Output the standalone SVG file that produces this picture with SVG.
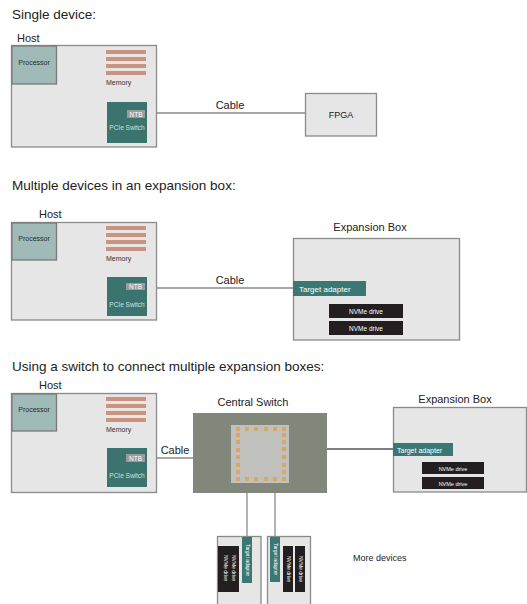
<svg xmlns="http://www.w3.org/2000/svg" width="527" height="604" viewBox="0 0 527 604">
<style>
text{font-family:"Liberation Sans",Arial,sans-serif;}
.h{font-size:13.5px;fill:#222;}
.lbl{font-size:11px;fill:#222;}
.host{fill:#e6e6e6;stroke:#8a8a8a;stroke-width:1.3;}
.proc{fill:#9fbab7;stroke:#7a7a7a;stroke-width:1.3;}
.pt{font-size:7px;fill:#2a2a2a;}
.mem{fill:#c9937e;}
.mt{font-size:7px;fill:#333;}
.pcie{fill:#3b736f;}
.pst{font-size:6.5px;fill:#cfe0dd;}
.ntb{fill:#9b9b9b;}
.ntbt{font-size:6.5px;fill:#fff;}
.ta{fill:#3b7873;}
.tat{font-size:8px;fill:#fff;}
.nv{fill:#231f20;}
.nvt{font-size:6.5px;fill:#fff;}
.vt{font-size:5px;fill:#fff;}
.ln{fill:none;stroke:#555;stroke-width:1.3;}
.cb{fill:none;stroke:#8a8a8a;stroke-width:1.3;}
.sw{fill:#81877a;}
.chip{fill:#c0c0bc;}
.pad{fill:#d8a767;}
</style>

<text class="h" x="12" y="19">Single device:</text>
<text class="h" x="12" y="190">Multiple devices in an expansion box:</text>
<text class="h" x="12" y="371">Using a switch to connect multiple expansion boxes:</text>

<g id="connectors">
  <path class="ln" d="M57 65H106"/>
  <path class="ln" d="M57 79H74V115H107"/>
  <path class="cb" d="M145 113H305"/>
  <path class="ln" d="M57 242H106"/>
  <path class="ln" d="M57 254H74V289H107"/>
  <path class="cb" d="M145 288H293"/>
  <path class="ln" d="M57 412H106"/>
  <path class="ln" d="M57 425H74V460H107"/>
  <path class="cb" d="M145 458H237"/>
  <path class="ln" d="M286 449H393"/>
  <path class="cb" d="M247 481V537"/>
  <path class="cb" d="M275 481V537"/>
</g>

<g id="host1">
  <text class="lbl" x="17" y="42">Host</text>
  <rect class="host" x="11.5" y="45.5" width="145" height="101.5"/>
  <rect class="proc" x="12" y="46" width="44.5" height="38"/>
  <text class="pt" x="34" y="65" text-anchor="middle">Processor</text>
  <rect class="mem" x="106" y="50" width="40" height="4"/>
  <rect class="mem" x="106" y="57" width="40" height="4"/>
  <rect class="mem" x="106" y="64" width="40" height="4"/>
  <rect class="mem" x="106" y="71" width="40" height="4"/>
  <text class="mt" x="106" y="85">Memory</text>
  <rect class="pcie" x="107" y="102" width="40" height="41"/>
  <rect class="ntb" x="127" y="110" width="18" height="8"/>
  <text class="ntbt" x="136" y="116.5" text-anchor="middle">NTB</text>
  <text class="pst" x="127" y="130" text-anchor="middle">PCIe Switch</text>
</g>
<g id="cable1">
  <text class="lbl" x="230" y="109" text-anchor="middle">Cable</text>
</g>
<g id="fpga">
  <rect class="host" x="305.5" y="93.5" width="71" height="42.5"/>
  <text class="lbl" x="341" y="118" text-anchor="middle" style="font-size:9px">FPGA</text>
</g>

<g id="host2">
  <text class="lbl" x="39" y="218">Host</text>
  <rect class="host" x="11.5" y="222.5" width="145" height="97.5"/>
  <rect class="proc" x="12" y="223" width="44.5" height="37"/>
  <text class="pt" x="34" y="241" text-anchor="middle">Processor</text>
  <rect class="mem" x="106" y="226" width="40" height="4"/>
  <rect class="mem" x="106" y="233" width="40" height="4"/>
  <rect class="mem" x="106" y="240" width="40" height="4"/>
  <rect class="mem" x="106" y="247" width="40" height="4"/>
  <text class="mt" x="106" y="261">Memory</text>
  <rect class="pcie" x="107" y="277" width="40" height="39"/>
  <rect class="ntb" x="126" y="283" width="19" height="7"/>
  <text class="ntbt" x="135.5" y="289" text-anchor="middle">NTB</text>
  <text class="pst" x="127" y="307" text-anchor="middle">PCIe Switch</text>
</g>
<g id="cable2">
  <text class="lbl" x="230" y="284" text-anchor="middle">Cable</text>
</g>
<g id="expbox1">
  <text class="lbl" x="370" y="231" text-anchor="middle">Expansion Box</text>
  <rect class="host" x="293.5" y="238.5" width="166" height="101.5"/>
  <rect class="ta" x="293" y="281" width="73" height="15"/>
  <text class="tat" x="299" y="291.5">Target adapter</text>
  <rect class="nv" x="329" y="304" width="74" height="14"/>
  <text class="nvt" x="366" y="313.5" text-anchor="middle">NVMe drive</text>
  <rect class="nv" x="329" y="321" width="74" height="14"/>
  <text class="nvt" x="366" y="330.5" text-anchor="middle">NVMe drive</text>
</g>

<g id="host3">
  <text class="lbl" x="39" y="389">Host</text>
  <rect class="host" x="11.5" y="393.5" width="145" height="99"/>
  <rect class="proc" x="12" y="394" width="44.5" height="37"/>
  <text class="pt" x="34" y="412" text-anchor="middle">Processor</text>
  <rect class="mem" x="106" y="397" width="40" height="4"/>
  <rect class="mem" x="106" y="404" width="40" height="4"/>
  <rect class="mem" x="106" y="411" width="40" height="4"/>
  <rect class="mem" x="106" y="418" width="40" height="4"/>
  <text class="mt" x="106" y="432">Memory</text>
  <rect class="pcie" x="107" y="448" width="40" height="39"/>
  <rect class="ntb" x="126" y="454" width="19" height="8"/>
  <text class="ntbt" x="135.5" y="460.5" text-anchor="middle">NTB</text>
  <text class="pst" x="127" y="478" text-anchor="middle">PCIe Switch</text>
</g>
<g id="cable3">
  <text class="lbl" x="175" y="454" text-anchor="middle">Cable</text>
</g>
<g id="central-switch">
  <text class="lbl" x="253" y="406" text-anchor="middle">Central Switch</text>
  <rect class="sw" x="193" y="413" width="134" height="80"/>
  <rect class="chip" x="231" y="425" width="58" height="58"/>
  <g class="pad">
    <rect x="236" y="427" width="4" height="4"/><rect x="245" y="427" width="4" height="4"/><rect x="254" y="427" width="4" height="4"/><rect x="264" y="427" width="4" height="4"/><rect x="273" y="427" width="4" height="4"/><rect x="282" y="427" width="4" height="4"/>
    <rect x="236" y="477" width="4" height="4"/><rect x="245" y="477" width="4" height="4"/><rect x="254" y="477" width="4" height="4"/><rect x="264" y="477" width="4" height="4"/><rect x="273" y="477" width="4" height="4"/><rect x="282" y="477" width="4" height="4"/>
    <rect x="236" y="433" width="4" height="4"/><rect x="236" y="440" width="4" height="4"/><rect x="236" y="448" width="4" height="4"/><rect x="236" y="455" width="4" height="4"/><rect x="236" y="463" width="4" height="4"/><rect x="236" y="470" width="4" height="4"/>
    <rect x="282" y="433" width="4" height="4"/><rect x="282" y="440" width="4" height="4"/><rect x="282" y="447" width="4" height="4"/><rect x="282" y="455" width="4" height="4"/><rect x="282" y="463" width="4" height="4"/><rect x="282" y="470" width="4" height="4"/>
  </g>
</g>
<g id="expbox2">
  <text class="lbl" x="455" y="403" text-anchor="middle">Expansion Box</text>
  <rect class="host" x="393.5" y="407.5" width="133" height="84.5"/>
  <rect class="ta" x="393" y="443" width="60" height="13"/>
  <text class="tat" x="397" y="452.5" style="font-size:7px">Target adapter</text>
  <rect class="nv" x="422" y="462" width="62" height="12"/>
  <text class="nvt" x="453" y="470.5" text-anchor="middle" style="font-size:5.5px">NVMe drive</text>
  <rect class="nv" x="422" y="477" width="62" height="12"/>
  <text class="nvt" x="453" y="485.5" text-anchor="middle" style="font-size:5.5px">NVMe drive</text>
</g>
<g id="device-a">
  <rect class="host" x="217.5" y="536.5" width="43.5" height="70"/>
  <rect class="ta" x="242" y="537" width="10" height="46"/>
  <text class="vt" transform="translate(245.5 560) rotate(90)" text-anchor="middle">Target adapter</text>
  <rect class="nv" x="218" y="546" width="21" height="46"/>
  <text class="vt" transform="translate(223.5 568) rotate(90)" text-anchor="middle">NVMe drive</text>
  <text class="vt" transform="translate(232 568) rotate(90)" text-anchor="middle">NVMe drive</text>
</g>
<g id="device-b">
  <rect class="host" x="267.5" y="536.5" width="43" height="70"/>
  <rect class="ta" x="270" y="537" width="10" height="45"/>
  <text class="vt" transform="translate(273.5 559) rotate(90)" text-anchor="middle">Target adapter</text>
  <rect class="nv" x="283" y="546" width="10" height="46"/>
  <text class="vt" transform="translate(286.5 569) rotate(90)" text-anchor="middle">NVMe drive</text>
  <rect class="nv" x="295" y="546" width="10" height="46"/>
  <text class="vt" transform="translate(298.5 569) rotate(90)" text-anchor="middle">NVMe drive</text>
</g>
<g id="more-devices">
  <text class="lbl" x="353" y="561" style="font-size:9px">More devices</text>
</g>
</svg>
